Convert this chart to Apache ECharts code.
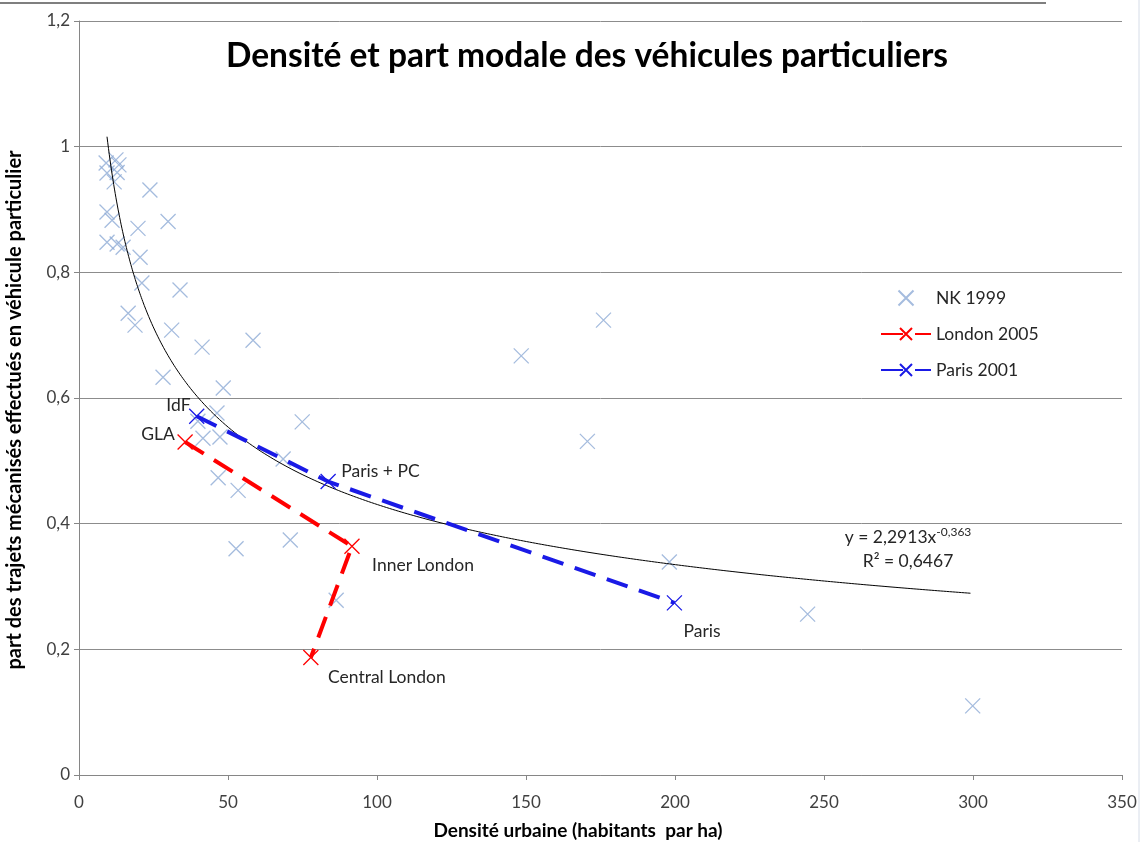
<!DOCTYPE html>
<html>
<head>
<meta charset="utf-8">
<title>Densité et part modale des véhicules particuliers</title>
<script src="https://cdn.jsdelivr.net/npm/echarts@6/dist/echarts.min.js"></script>
<style>
  html, body { margin: 0; padding: 0; background: #ffffff; }
  #chart { width: 1141px; height: 842px; }
</style>
</head>
<body>
<div id="chart"></div>
<script>
// NK 1999 (densité, part VP)
const nkDensity = [
  9.1, 12.4, 13.4, 9.4, 12.8, 11.8, 23.8,
  9.4, 11.1, 19.8, 29.9, 9.4, 12.8, 14.8, 20.5,
  21.1, 33.9, 16.5, 18.8, 31.1, 41.3, 58.4, 28.2, 48.4,
  39.9, 46.3, 74.9, 41.6, 47.3, 46.7, 53.4, 52.7, 70.9, 86.3, 68.5,
  148.4, 176.0, 170.6, 198.1, 244.5, 299.9
]
const nkShare = [
  0.974, 0.979, 0.971, 0.958, 0.959, 0.944, 0.931,
  0.896, 0.883, 0.870, 0.881, 0.848, 0.845, 0.840, 0.824,
  0.783, 0.772, 0.735, 0.716, 0.708, 0.681, 0.692, 0.633, 0.616,
  0.563, 0.576, 0.562, 0.536, 0.538, 0.473, 0.453, 0.360, 0.374, 0.278, 0.503,
  0.667, 0.724, 0.531, 0.339, 0.256, 0.110
]

// London 2005
const londonNames = ['GLA', 'Inner London', 'Central London']
const londonDensity = [35.6, 91.6, 77.8]
const londonShare = [0.530, 0.364, 0.187]

// Paris 2001
const parisNames = ['IdF', 'Paris + PC', 'Paris']
const parisDensity = [39.5, 83.6, 199.8]
const parisShare = [0.571, 0.467, 0.274]

// courbe de tendance affichée : y = 2,2913 x^-0,363
const trendA = 2.2913
const trendB = -0.363
const trendFrom = 9.4
const trendTo = 300

const xTicks = { min: 0, max: 350, interval: 50 }
const yTicks = { min: 0, max: 1.2, interval: 0.2 }

const FONT = 'Lato, "Open Sans", sans-serif'
const crossPath = 'path://M0,0L10,10M10,0L0,10'

const labelStyle = {
  London: [
    { position: 'left', distance: 2, offset: [0, -8] },
    { position: 'right', distance: 12, offset: [0, 19] },
    { position: 'right', distance: 9, offset: [0, 20] },
  ],
  Paris: [
    { position: 'left', distance: -2, offset: [0, -11] },
    { position: 'right', distance: 5, offset: [0, -10] },
    { position: 'right', distance: 1, offset: [0, 29] },
  ],
}

const namedPoints = (names, xs, ys, labels) =>
  xs.map((x, i) => ({
    name: names[i],
    value: [x, ys[i]],
    label: {
      show: true,
      formatter: names[i],
      color: '#262626',
      fontSize: 17.5,
      fontFamily: FONT,
      ...labels[i],
    },
  }))

const trendData = []
for (let x = trendFrom; x <= trendTo + 0.001; x += x < 40 ? 0.25 : 1) {
  trendData.push([x, trendA * Math.pow(x, trendB)])
}

const formatComma = (v) => String(+v.toFixed(1)).replace('.', ',')

const chart = echarts.init(document.getElementById('chart'))

chart.setOption({
  backgroundColor: '#ffffff',
  animation: false,
  textStyle: { fontFamily: FONT },
  title: {
    text: 'Densité et part modale des véhicules particuliers',
    left: 582,
    textAlign: 'center',
    top: 34,
    textStyle: { fontSize: 33.5, fontWeight: 'bold', color: '#000000', fontFamily: FONT },
  },
  grid: {
    left: 79,
    right: 19,
    top: 21,
    bottom: 67,
    containLabel: false,
    outerBoundsMode: 'none',
  },
  legend: {
    orient: 'vertical',
    left: 880,
    top: 289,
    padding: 0,
    itemWidth: 50,
    itemHeight: 15,
    itemGap: 18,
    data: ['NK 1999', 'London 2005', 'Paris 2001'],
    textStyle: { fontSize: 17.5, color: '#262626', fontFamily: FONT },
  },
  xAxis: {
    type: 'value',
    min: xTicks.min,
    max: xTicks.max,
    interval: xTicks.interval,
    axisLine: { show: true, lineStyle: { color: '#868686', width: 1 } },
    axisTick: { show: true, inside: false, length: 5, lineStyle: { color: '#868686' } },
    axisLabel: { color: '#404040', fontSize: 17, margin: 19, fontFamily: FONT },
    splitLine: { show: false },
  },
  yAxis: {
    type: 'value',
    min: yTicks.min,
    max: yTicks.max,
    interval: yTicks.interval,
    axisLine: { show: true, lineStyle: { color: '#868686', width: 1 } },
    axisTick: { show: true, inside: false, length: 5, lineStyle: { color: '#868686' } },
    axisLabel: { color: '#404040', fontSize: 17, margin: 9, formatter: formatComma, fontFamily: FONT },
    splitLine: { show: true, lineStyle: { color: '#8c8c8c', width: 1 } },
  },
  graphic: [
    {
      type: 'line',
      shape: { x1: 0, y1: 3, x2: 1046, y2: 3 },
      style: { stroke: '#7f7f7f', lineWidth: 2 },
    },
    {
      type: 'line',
      shape: { x1: 1139, y1: 0, x2: 1139, y2: 842 },
      style: { stroke: '#d6dde8', lineWidth: 1 },
    },
    {
      type: 'text',
      x: 15,
      y: 410,
      rotation: Math.PI / 2,
      style: {
        text: 'part des trajets mécanisés effectués en véhicule particulier',
        align: 'center',
        verticalAlign: 'middle',
        fontSize: 20,
        fontWeight: 'bold',
        fill: '#000000',
        fontFamily: FONT,
      },
    },
    {
      type: 'text',
      x: 578,
      y: 831,
      style: {
        text: 'Densité urbaine (habitants  par ha)',
        align: 'center',
        verticalAlign: 'middle',
        fontSize: 19,
        fontWeight: 'bold',
        fill: '#000000',
        fontFamily: FONT,
      },
    },
    {
      type: 'text',
      x: 908,
      y: 537,
      style: {
        text: 'y = 2,2913x{s|-0,363}',
        rich: {
          s: { fontSize: 12, verticalAlign: 'top', lineHeight: 22, fontFamily: FONT, fill: '#262626' },
        },
        align: 'center',
        verticalAlign: 'middle',
        fontSize: 17.5,
        lineHeight: 22,
        fill: '#262626',
        fontFamily: FONT,
      },
    },
    {
      type: 'text',
      x: 908,
      y: 561,
      style: {
        text: 'R² = 0,6467',
        align: 'center',
        verticalAlign: 'middle',
        fontSize: 17.5,
        fill: '#262626',
        fontFamily: FONT,
      },
    },
  ],
  series: [
    {
      name: 'NK 1999',
      type: 'scatter',
      symbol: crossPath,
      symbolSize: 15,
      itemStyle: { color: 'rgba(0,0,0,0)', borderColor: '#8fabd6', borderWidth: 1.3 },
      data: nkDensity.map((x, i) => [x, nkShare[i]]),
      z: 2,
    },
    {
      name: 'Tendance',
      type: 'line',
      showSymbol: false,
      silent: true,
      data: trendData,
      lineStyle: { color: '#000000', width: 1 },
      z: 3,
    },
    {
      name: 'London 2005',
      type: 'line',
      symbol: crossPath,
      symbolSize: 15,
      showAllSymbol: true,
      itemStyle: { color: 'rgba(0,0,0,0)', borderColor: '#ff0000', borderWidth: 1.3 },
      lineStyle: { color: '#ff0000', width: 4, type: [22, 12] },
      data: namedPoints(londonNames, londonDensity, londonShare, labelStyle.London),
      z: 4,
    },
    {
      name: 'Paris 2001',
      type: 'line',
      symbol: crossPath,
      symbolSize: 15,
      showAllSymbol: true,
      itemStyle: { color: 'rgba(0,0,0,0)', borderColor: '#1a1ae6', borderWidth: 1.3 },
      lineStyle: { color: '#1a1ae6', width: 4, type: [22, 12] },
      data: namedPoints(parisNames, parisDensity, parisShare, labelStyle.Paris),
      z: 4,
    },
  ],
})
</script>
</body>
</html>
